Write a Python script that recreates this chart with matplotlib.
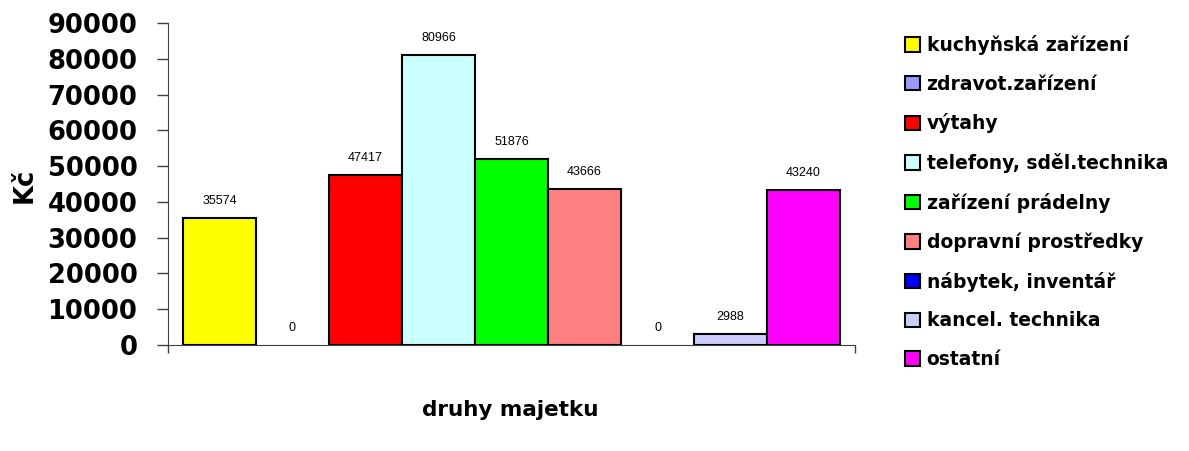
import numpy as np
import matplotlib.pyplot as plt
from matplotlib.patches import Patch

# data
categories = ['kuchyňská zařízení', 'zdravot.zařízení', 'výtahy',
              'telefony, sděl.technika', 'zařízení prádelny',
              'dopravní prostředky', 'nábytek, inventář',
              'kancel. technika', 'ostatní']
values = [35574, 0, 47417, 80966, 51876, 43666, 0, 2988, 43240]
colors = ['#FFFF00', '#9999FF', '#FF0000', '#CCFFFF', '#00FF00',
          '#FF8080', '#0000FF', '#CCCCFF', '#FF00FF']
y_ticks = np.arange(0, 90001, 10000)

fig = plt.figure(figsize=(11.89, 4.51), dpi=100)
ax = fig.add_axes([168 / 1189, 1 - 345 / 451, (855 - 168) / 1189, (345 - 23) / 451])

x = np.arange(len(values))
widths = [1.5 if v > 0 else 0 for v in values]
ax.bar(x, values, width=1.0, color=colors, edgecolor='black', linewidth=widths, zorder=3)

for xi, v in zip(x, values):
    ax.annotate(str(v), (xi, v), xytext=(0, 8), textcoords='offset points',
                ha='center', va='bottom', fontsize=9, family='Liberation Sans')

margin = 0.205
lo, hi = -0.5 - margin, len(values) - 0.5 + margin
ax.set_xlim(lo, hi)
ax.set_ylim(0, 90000)
ax.set_yticks(y_ticks)
ax.set_yticklabels([str(t) for t in y_ticks], fontsize=18.5, fontweight='bold')
ax.tick_params(axis='y', direction='out', length=8, width=1, pad=14, color='#404040')
ax.set_xticks([lo, hi])
ax.set_xticklabels(['', ''])
ax.tick_params(axis='x', direction='out', length=6, width=1, color='#404040')
for s in ['top', 'right']:
    ax.spines[s].set_visible(False)
ax.spines['left'].set_color('#404040')
ax.spines['bottom'].set_color('#404040')

# axis titles
fig.text(25 / 1189, 1 - 185 / 451, 'Kč', rotation=90, ha='center', va='center',
         fontsize=18.5, fontweight='bold')
fig.text(510 / 1189, 1 - 410 / 451, 'druhy majetku', ha='center', va='center',
         fontsize=15.5, fontweight='bold')

handles = [Patch(facecolor=c, edgecolor='black', linewidth=1.5) for c in colors]
fig.legend(handles, categories, loc='upper left', bbox_to_anchor=(905 / 1189, 1 - 35 / 451),
           frameon=False, prop={'weight': 'bold', 'size': 13.5},
           handlelength=0.8, handleheight=0.8, handletextpad=0.35, labelspacing=1.05,
           borderaxespad=0, borderpad=0)

fig.savefig('out.png', dpi=100)
